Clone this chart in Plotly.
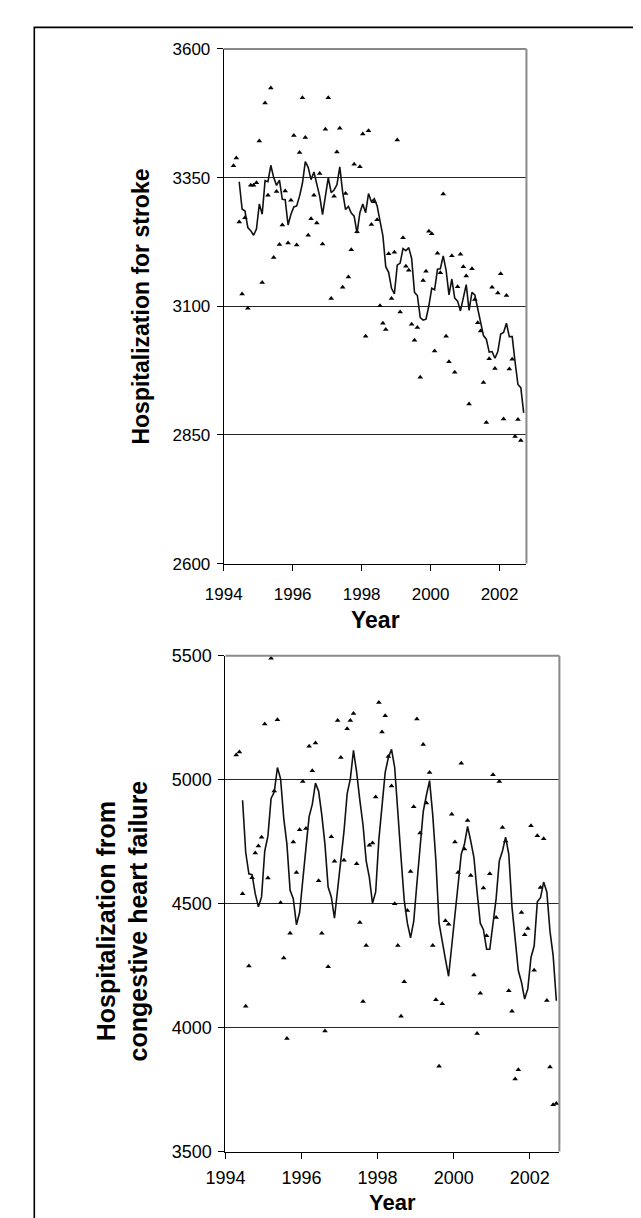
import plotly.graph_objects as go

# ---------------- data ----------------
start_year = 1994
start_month = 4  # first observation: April 1994

stroke_points = [
    3373, 3388, 3264, 3124, 3272, 3096, 3335, 3335, 3340, 3421,
    3146, 3495, 3316, 3524, 3195, 3323, 3220, 3258, 3324, 3223,
    3306, 3432, 3219, 3399, 3505, 3428, 3238, 3270, 3316, 3262,
    3358, 3221, 3444, 3505, 3115, 3314, 3400, 3446, 3137, 3319,
    3157, 3210, 3376, 3245, 3371, 3435, 3042, 3441, 3259, 3303,
    3268, 3101, 3067, 3055, 3202, 3115, 3205, 3423, 3089, 3233,
    3178, 3170, 3065, 3034, 3059, 2962, 3150, 3168, 3246, 3241,
    3013, 3203, 3165, 3318, 3042, 2992, 3198, 2972, 3138, 3201,
    3177, 3159, 2910, 3173, 3113, 3068, 3052, 2952, 2874, 2998,
    3137, 2979, 3126, 3163, 2881, 3121, 2978, 2997, 2847, 2880,
    2839,
]

stroke_line = [
    3342, 3289, 3285, 3253, 3247, 3238, 3250, 3299, 3279, 3344,
    3342, 3374, 3350, 3335, 3345, 3308, 3307, 3258, 3279, 3293,
    3295, 3314, 3339, 3381, 3370, 3346, 3361, 3337, 3314, 3278,
    3317, 3350, 3321, 3326, 3336, 3371, 3322, 3288, 3294, 3281,
    3275, 3242, 3282, 3299, 3282, 3319, 3303, 3309, 3295, 3266,
    3237, 3177, 3166, 3135, 3124, 3180, 3184, 3212, 3208, 3214,
    3193, 3127, 3121, 3078, 3073, 3075, 3101, 3135, 3132, 3172,
    3173, 3198, 3170, 3122, 3153, 3116, 3110, 3091, 3116, 3142,
    3092, 3127, 3122, 3094, 3071, 3043, 3036, 3011, 3012, 2999,
    3012, 3046, 3049, 3067, 3041, 3041, 2992, 2948, 2942, 2893,
]
stroke_line_offset = 2  # line starts at the 3rd month

chf_points = [
    5099, 5111, 4540, 4086, 4248, 4604, 4704, 4732, 4768, 5224,
    4603, 5490, 4954, 5241, 4503, 4281, 3956, 4380, 4748, 4625,
    4798, 4992, 4803, 5135, 5036, 5148, 4592, 4380, 3986, 4245,
    4770, 4671, 5238, 5089, 4675, 5205, 5238, 5267, 4661, 4424,
    4105, 4331, 4735, 4744, 4930, 5311, 5192, 5258, 5093, 4974,
    4499, 4331, 4046, 4185, 4472, 4629, 4891, 5245, 4785, 5142,
    4906, 5029, 4331, 4112, 3844, 4096, 4431, 4417, 4860, 4748,
    4625, 5066, 4720, 4835, 4613, 4212, 3976, 4138, 4563, 4370,
    4620, 5020, 4444, 4992, 4807, 4752, 4149, 4066, 3793, 3830,
    4464, 4374, 4400, 4814, 4231, 4774, 4565, 4762, 4109, 3841,
    3689, 3694,
]

chf_line = [
    4917, 4706, 4620, 4617, 4540, 4487, 4527, 4712, 4772, 4924,
    4950, 5049, 5003, 4844, 4739, 4554, 4520, 4415, 4464, 4606,
    4725, 4851, 4900, 4986, 4953, 4858, 4739, 4567, 4527, 4441,
    4554, 4659, 4791, 4943, 5003, 5118, 5029, 4917, 4818, 4672,
    4606, 4501, 4547, 4758, 4910, 5029, 5089, 5122, 5049, 4884,
    4686, 4514, 4421, 4362, 4428, 4580, 4739, 4871, 4937, 4996,
    4858, 4672, 4421, 4342, 4276, 4207, 4329, 4448, 4567, 4699,
    4739, 4811, 4752, 4686, 4547, 4421, 4395, 4316, 4316, 4421,
    4520, 4672, 4712, 4768, 4699, 4487, 4368, 4230, 4183, 4115,
    4157, 4283, 4329, 4507, 4524, 4587, 4547, 4388, 4289, 4108,
]
chf_line_offset = 2

year_ticks = [1994, 1996, 1998, 2000, 2002]
stroke_ticks = [2600, 2850, 3100, 3350, 3600]
chf_ticks = [3500, 4000, 4500, 5000, 5500]
year_range = [1994, 2002.78]
stroke_range = [2600, 3600]
chf_range = [3500, 5500]


def month_positions(n, offset=0):
    # decimal-year position of each monthly observation
    return [start_year + (start_month - 1 + offset + i + 0.4) / 12.0 for i in range(n)]


# ---------------- figure ----------------
W, H = 641, 1218
FONT = "Liberation Sans, Arial, Helvetica, sans-serif"

fig = go.Figure()

marker_style = dict(symbol="triangle-up", size=5, color="black")
line_style = dict(color="#111111", width=1.6)

fig.add_trace(go.Scatter(
    x=month_positions(len(stroke_points)), y=stroke_points, mode="markers",
    marker=marker_style, cliponaxis=False,
    xaxis="x", yaxis="y", showlegend=False))
fig.add_trace(go.Scatter(
    x=month_positions(len(stroke_line), stroke_line_offset), y=stroke_line, mode="lines",
    line=line_style, xaxis="x", yaxis="y", showlegend=False))

fig.add_trace(go.Scatter(
    x=month_positions(len(chf_points)), y=chf_points, mode="markers",
    marker=marker_style, cliponaxis=False,
    xaxis="x2", yaxis="y2", showlegend=False))
fig.add_trace(go.Scatter(
    x=month_positions(len(chf_line), chf_line_offset), y=chf_line, mode="lines",
    line=line_style, xaxis="x2", yaxis="y2", showlegend=False))


def px_x(p):
    return p / W


def px_y(p):
    return (H - p) / H


top = dict(l=202, r=514.5, t=31.5, b=554.7)
bot = dict(l=203.8, r=548.5, t=648.3, b=1152.5)

common_x = dict(range=year_range, tickvals=year_ticks, ticks="outside", ticklen=6,
                tickcolor="black", showline=True, linecolor="black", linewidth=1,
                showgrid=False, zeroline=False)
common_y = dict(ticks="outside", ticklen=6, tickcolor="black", showline=True,
                linecolor="black", linewidth=1, showgrid=True, gridcolor="#262626",
                gridwidth=1, zeroline=False, ticklabelstandoff=3)

fig.update_layout(
    width=W, height=H, margin=dict(l=0, r=0, t=0, b=0),
    paper_bgcolor="white", plot_bgcolor="white",
    font=dict(family=FONT, color="black"),
    xaxis=dict(domain=[px_x(top["l"]), px_x(top["r"])], anchor="y",
               tickfont=dict(size=17), ticklabelstandoff=9, **common_x),
    yaxis=dict(domain=[px_y(top["b"]), px_y(top["t"])], anchor="x",
               range=stroke_range, tickvals=stroke_ticks,
               tickfont=dict(size=17), **common_y),
    xaxis2=dict(domain=[px_x(bot["l"]), px_x(bot["r"])], anchor="y2",
                tickfont=dict(size=18), ticklabelstandoff=4, **common_x),
    yaxis2=dict(domain=[px_y(bot["b"]), px_y(bot["t"])], anchor="x2",
                range=chf_range, tickvals=chf_ticks,
                tickfont=dict(size=18), **common_y),
)

shapes = []
# grey frame lines on the top and right of each plot area
for xr, yr in (("x domain", "y domain"), ("x2 domain", "y2 domain")):
    shapes.append(dict(type="line", xref=xr, yref=yr, x0=0, x1=1, y0=1, y1=1,
                       line=dict(color="#8a8a8a", width=2)))
    shapes.append(dict(type="line", xref=xr, yref=yr, x0=1, x1=1, y0=0, y1=1,
                       line=dict(color="#8a8a8a", width=2)))
# outer frame
shapes.append(dict(type="rect", xref="paper", yref="paper",
                   x0=px_x(6.5), x1=1.05, y0=-0.05, y1=px_y(9.5),
                   line=dict(color="black", width=1.6), fillcolor="rgba(0,0,0,0)"))
fig.update_layout(shapes=shapes)

annotations = [
    dict(text="<b>Year</b>", x=px_x((top["l"] + top["r"]) / 2), y=px_y(612),
         xref="paper", yref="paper", showarrow=False, xanchor="center", yanchor="middle",
         font=dict(size=23, family=FONT)),
    dict(text="<b>Hospitalization for stroke</b>", x=px_x(117), y=px_y(293),
         xref="paper", yref="paper", showarrow=False, xanchor="center", yanchor="middle",
         textangle=-90, font=dict(size=23, family=FONT)),
    dict(text="<b>Year</b>", x=px_x((bot["l"] + bot["r"]) / 2), y=px_y(1204),
         xref="paper", yref="paper", showarrow=False, xanchor="center", yanchor="middle",
         font=dict(size=22, family=FONT)),
    dict(text="<b>Hospitalization from<br>congestive heart failure</b>", x=px_x(97.5), y=px_y(918),
         xref="paper", yref="paper", showarrow=False, xanchor="center", yanchor="middle",
         textangle=-90, font=dict(size=25, family=FONT)),
]
fig.update_layout(annotations=annotations)

fig.write_html("out.html")
